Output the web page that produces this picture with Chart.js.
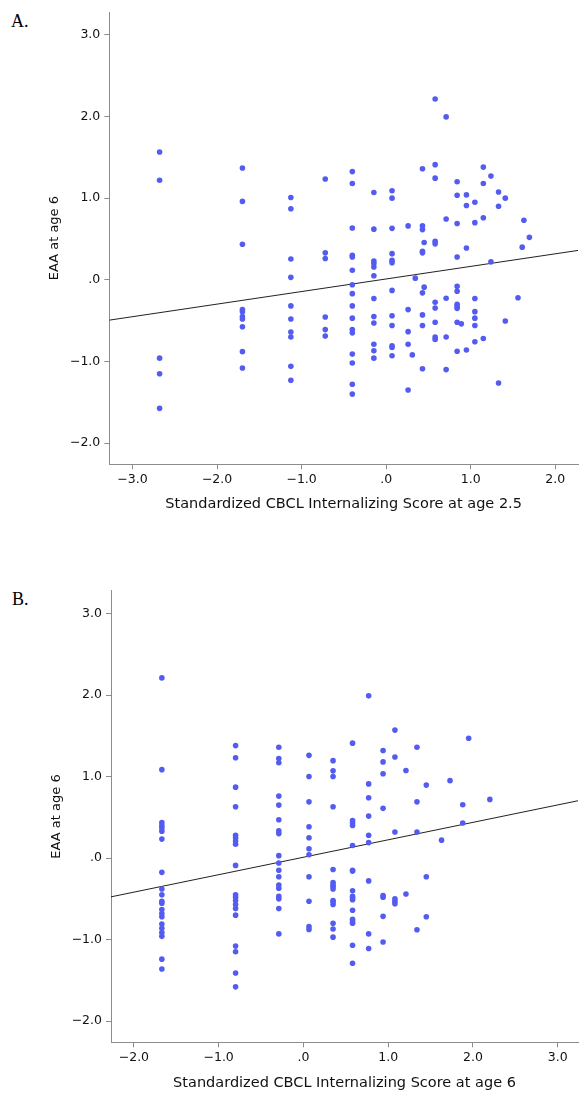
<!DOCTYPE html>
<html>
<head>
<meta charset="utf-8">
<script src="https://cdn.jsdelivr.net/npm/chart.js@4"></script>
<style>
  body { margin: 0; background: #fff; width: 582px; height: 1093px; position: relative; overflow: hidden; }
  canvas { position: absolute; left: 0; }
  .tag { position: absolute; font-family: "Liberation Serif", "DejaVu Serif", serif; font-size: 18px; color: #000; }
</style>
</head>
<body>
<div class="tag" style="left:11px; top:11px;">A.</div>
<div class="tag" style="left:12px; top:589px;">B.</div>
<canvas id="chartA" width="582" height="530" style="top:0px;"></canvas>
<canvas id="chartB" width="582" height="533" style="top:560px;"></canvas>
<script>
// Panel A: CBCL internalizing at 2.5 (columns of x with the EAA values at each)
const scoreColsA = [-2.68, -1.70, -1.127, -0.72, -0.40, -0.145, 0.07, 0.26, 0.31, 0.345, 0.43, 0.45,
    0.58, 0.71, 0.84, 0.89, 0.95, 1.05, 1.15, 1.24, 1.33, 1.41, 1.56, 1.61, 1.63, 1.695];
const eaaColsA = [
    [1.566, 1.22, -0.96, -1.15, -1.575],
    [1.37, 0.96, 0.435, -0.365, -0.39, -0.45, -0.48, -0.575, -0.88, -1.08],
    [1.007, 0.87, 0.255, 0.03, -0.32, -0.48, -0.64, -0.70, -1.06, -1.23],
    [1.235, 0.33, 0.26, -0.455, -0.61, -0.69],
    [1.325, 1.18, 0.635, 0.30, 0.28, 0.116, -0.06, -0.17, -0.32, -0.47, -0.61, -0.65, -0.91, -1.02, -1.28, -1.40],
    [1.07, 0.62, 0.23, 0.20, 0.157, 0.05, -0.23, -0.45, -0.53, -0.79, -0.87, -0.96],
    [1.09, 1.0, 0.63, 0.32, 0.24, 0.21, -0.13, -0.44, -0.56, -0.81, -0.83, -0.93],
    [0.66, -0.365, -0.635, -0.79, -1.35],
    [-0.92],
    [0.02],
    [1.36, 0.66, 0.615, 0.35, 0.33, -0.16, -0.43, -0.56, -1.09],
    [0.456, -0.09],
    [2.215, 1.41, 1.245, 0.47, 0.44, -0.276, -0.345, -0.52, -0.70, -0.73],
    [1.995, 0.745, -0.227, -0.70, -1.10],
    [1.20, 1.035, 0.69, 0.28, -0.08, -0.14, -0.30, -0.325, -0.35, -0.52, -0.875],
    [-0.54],
    [1.04, 0.91, 0.39, -0.86],
    [0.95, 0.70, -0.23, -0.39, -0.47, -0.56, -0.76],
    [1.38, 1.18, 0.76, -0.72],
    [1.27, 0.22],
    [1.075, 0.90, -1.265],
    [1.0, -0.505],
    [-0.22],
    [0.40],
    [0.73],
    [0.52]
];

// Panel B: CBCL internalizing at 6
const scoreColsB = [-1.67, -0.80, -0.29, 0.066, 0.35, 0.58, 0.77, 0.94, 1.08, 1.21, 1.34, 1.45,
    1.63, 1.73, 1.88, 1.95, 2.20];
const eaaColsB = [
    [2.21, 1.085, 0.435, 0.40, 0.37, 0.33, 0.233, -0.175, -0.38, -0.45, -0.53, -0.555, -0.63, -0.68, -0.72, -0.81, -0.86, -0.915, -0.96, -1.24, -1.36],
    [1.38, 1.23, 0.87, 0.63, 0.28, 0.245, 0.21, 0.17, -0.09, -0.45, -0.48, -0.52, -0.57, -0.62, -0.70, -1.08, -1.15, -1.41, -1.58],
    [1.36, 1.22, 1.17, 0.76, 0.65, 0.47, 0.335, 0.30, 0.03, -0.06, -0.15, -0.23, -0.33, -0.37, -0.47, -0.50, -0.62, -0.93],
    [1.26, 1.0, 0.69, 0.385, 0.25, 0.115, 0.04, -0.23, -0.53, -0.84, -0.875],
    [1.195, 1.07, 1.0, 0.63, -0.14, -0.30, -0.33, -0.35, -0.38, -0.52, -0.54, -0.57, -0.80, -0.87, -0.97],
    [1.41, 0.46, 0.43, 0.40, 0.155, -0.15, -0.16, -0.40, -0.47, -0.49, -0.51, -0.64, -0.75, -0.78, -0.80, -1.07, -1.29],
    [1.99, 0.91, 0.74, 0.515, 0.28, 0.19, -0.28, -0.93, -1.11],
    [1.32, 1.18, 1.035, 0.61, -0.46, -0.48, -0.715, -1.03],
    [1.57, 1.24, 0.32, -0.50, -0.53, -0.56],
    [1.075, -0.44],
    [1.36, 0.69, 0.32, -0.88],
    [0.895, -0.23, -0.72],
    [0.22],
    [0.95],
    [0.655, 0.43],
    [1.47],
    [0.72]
];

// fit lines
const fitA = { slope: 0.154, intercept: 0.01 };
const fitB = { slope: 0.214, intercept: 0.01 };

const xTicksA = [-3, -2, -1, 0, 1, 2];
const xTicksB = [-2, -1, 0, 1, 2, 3];
const yTicks = [-2, -1, 0, 1, 2, 3];

const dotColor = "rgb(84,92,240)";
const axisGray = "#8c8c8c";
const fam = "'DejaVu Sans', Verdana, sans-serif";
const tickFont = { family: fam, size: 12.5 };
const xTitleFont = { family: fam, size: 14.5 };
const yTitleFont = { family: fam, size: 13 };

function fmt(v) {
    if (v === 0) return ".0";
    if (v < 0) return "\u2212" + Math.abs(v).toFixed(1);
    return v.toFixed(1);
}

function toPoints(cols, vals) {
    const pts = [];
    cols.forEach((x, i) => vals[i].forEach(y => pts.push({ x: x, y: y })));
    return pts;
}

function makeChart(id, cfg) {
    const ctx = document.getElementById(id).getContext("2d");
    return new Chart(ctx, {
        type: "scatter",
        data: {
            datasets: [{
                data: toPoints(cfg.cols, cfg.vals),
                backgroundColor: dotColor,
                borderWidth: 0,
                pointRadius: 2.8
            }, {
                type: "line",
                data: [
                    { x: cfg.xMin, y: cfg.fit.intercept + cfg.fit.slope * cfg.xMin },
                    { x: cfg.xMax, y: cfg.fit.intercept + cfg.fit.slope * cfg.xMax }
                ],
                borderColor: "#222",
                borderWidth: 1,
                pointRadius: 0,
                fill: false
            }]
        },
        options: {
            responsive: false,
            animation: false,
            devicePixelRatio: 1,
            layout: { padding: { top: cfg.padTop, right: 0, left: 0, bottom: 0 } },
            plugins: { legend: { display: false }, tooltip: { enabled: false } },
            scales: {
                x: {
                    type: "linear",
                    min: cfg.xMin,
                    max: cfg.xMax,
                    afterBuildTicks: s => { s.ticks = cfg.xTicks.map(v => ({ value: v })); },
                    afterFit: s => { s.height = cfg.xHeight; },
                    grid: { drawOnChartArea: false, drawTicks: true, tickLength: 5, color: axisGray },
                    border: { color: axisGray, width: 1 },
                    ticks: { autoSkip: false, maxRotation: 0, padding: 3, color: "#111", font: tickFont, callback: v => fmt(v) },
                    title: { display: true, text: cfg.xTitle, color: "#111", font: xTitleFont, padding: { top: 0, bottom: cfg.xTitlePad } }
                },
                y: {
                    type: "linear",
                    min: -2.26,
                    max: 3.28,
                    afterBuildTicks: s => { s.ticks = yTicks.map(v => ({ value: v })); },
                    afterFit: s => { s.width = cfg.yWidth; },
                    grid: { drawOnChartArea: false, drawTicks: true, tickLength: 5, color: axisGray },
                    border: { color: axisGray, width: 1 },
                    ticks: { autoSkip: false, padding: 4, color: "#111", font: tickFont, callback: v => fmt(v) },
                    title: { display: true, text: "EAA at age 6", color: "#111", font: yTitleFont, padding: { top: cfg.yTitlePad, bottom: 0 } }
                }
            }
        }
    });
}

makeChart("chartA", {
    cols: scoreColsA, vals: eaaColsA, fit: fitA,
    xMin: -3.275, xMax: 2.27, xTicks: xTicksA,
    padTop: 12, xHeight: 65.7, yWidth: 109.3,
    xTitle: "Standardized CBCL Internalizing Score at age 2.5",
    xTitlePad: 17, yTitlePad: 47
});

makeChart("chartB", {
    cols: scoreColsB, vals: eaaColsB, fit: fitB,
    xMin: -2.27, xMax: 3.24, xTicks: xTicksB,
    padTop: 30.7, xHeight: 50.7, yWidth: 111,
    xTitle: "Standardized CBCL Internalizing Score at age 6",
    xTitlePad: 1, yTitlePad: 49
});
</script>
</body>
</html>
